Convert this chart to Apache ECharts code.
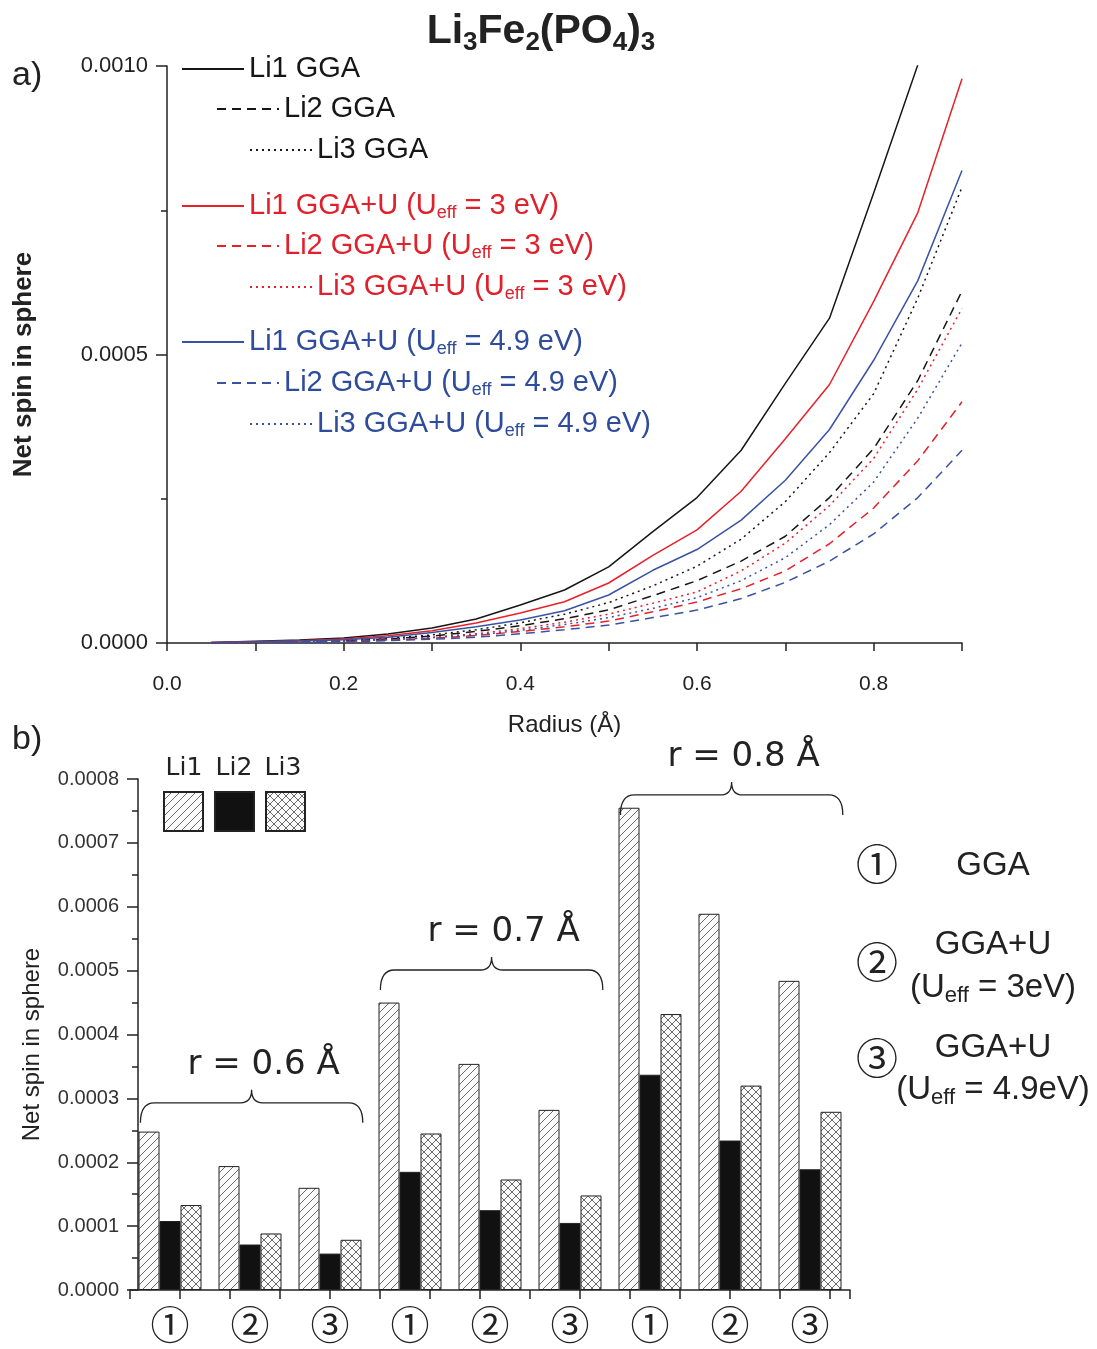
<!DOCTYPE html>
<html><head><meta charset="utf-8">
<script src="https://cdn.jsdelivr.net/npm/echarts@6/dist/echarts.min.js"></script>
<style>html,body{margin:0;padding:0;background:#fff}#c{width:1097px;height:1349px}</style>
</head><body><div id="c"></div>
<script>
// ---------- data: panel a) ----------
const radius = [0.05,0.10,0.15,0.20,0.25,0.30,0.35,0.40,0.45,0.50,0.55,0.60,0.65,0.70,0.75,0.80,0.85,0.90];
const li1GGA  = [0.000001,0.000003,0.000005,0.0000087,0.0000156,0.000026,0.0000416,0.0000658,0.0000918,0.000132,0.000193,0.000252,0.000334,0.000450,0.000563,0.000780,0.001002,0.00128];
const li2GGA  = [0.0000005,0.000001,0.000002,0.0000035,0.000007,0.000012,0.00002,0.00003,0.000042,0.0000575,0.000082,0.000108,0.000142,0.000185,0.000252,0.000337,0.000455,0.000610];
const li3GGA  = [0.0000005,0.0000012,0.0000022,0.000004,0.0000078,0.000014,0.000023,0.000035,0.00005,0.00007,0.000099,0.000133,0.00018,0.000245,0.000330,0.000432,0.000598,0.000790];
const li1U3   = [0.000001,0.000002,0.000004,0.000007,0.0000125,0.0000213,0.0000347,0.000052,0.0000716,0.000104,0.000152,0.000196,0.000263,0.000354,0.000448,0.000592,0.000746,0.000978];
const li2U3   = [0.0000004,0.0000008,0.0000015,0.0000025,0.0000048,0.000008,0.000013,0.00002,0.000028,0.000038,0.000054,0.0000712,0.000094,0.000125,0.000172,0.000234,0.000316,0.000418];
const li3U3   = [0.0000004,0.000001,0.0000018,0.000003,0.000006,0.00001,0.000016,0.000025,0.000036,0.00005,0.000069,0.0000885,0.000125,0.000173,0.000238,0.000320,0.000440,0.000580];
const li1U49  = [0.000001,0.000002,0.0000035,0.0000057,0.00001,0.000018,0.0000283,0.00004,0.000056,0.0000832,0.000126,0.000162,0.000213,0.000282,0.000370,0.000490,0.000628,0.000819];
const li2U49  = [0.0000003,0.0000007,0.0000012,0.000002,0.000004,0.0000065,0.00001,0.000016,0.000023,0.000031,0.000044,0.000057,0.000077,0.000105,0.000142,0.000189,0.000252,0.000334];
const li3U49  = [0.0000004,0.0000009,0.0000016,0.0000027,0.0000055,0.0000092,0.000014,0.000022,0.000032,0.000044,0.00006,0.0000786,0.000108,0.000148,0.000205,0.000279,0.000390,0.000520];
const lineNames = ['Li1 GGA','Li2 GGA','Li3 GGA',
  'Li1 GGA+U (Ueff = 3 eV)','Li2 GGA+U (Ueff = 3 eV)','Li3 GGA+U (Ueff = 3 eV)',
  'Li1 GGA+U (Ueff = 4.9 eV)','Li2 GGA+U (Ueff = 4.9 eV)','Li3 GGA+U (Ueff = 4.9 eV)'];
const lineValues = [li1GGA,li2GGA,li3GGA,li1U3,li2U3,li3U3,li1U49,li2U49,li3U49];

// ---------- data: panel b) ----------
const radii = ['0.6','0.7','0.8'];
const methods = ['①','②','③'];
const barNames = ['Li1','Li2','Li3'];
const li1Bar = [0.000248,0.000194,0.000160, 0.000450,0.000354,0.000282, 0.000755,0.000589,0.000484];
const li2Bar = [0.000108,0.0000712,0.000057, 0.000185,0.000125,0.000105, 0.000337,0.000234,0.000189];
const li3Bar = [0.000133,0.0000885,0.0000786, 0.000245,0.000173,0.000148, 0.000432,0.000320,0.000279];
const braceLevels = [0.000293,0.000501,0.000775];
const methodNames = ['GGA','GGA+U','GGA+U'];
const methodParams = ['','(Ueff = 3eV)','(Ueff = 4.9eV)'];

const categories = [];
radii.forEach(r => methods.forEach(m => categories.push(r + ' ' + m)));

// ---------- styles ----------
const BLACK = '#161616', RED = '#e8202a', BLUE = '#3953a4';
const TXT_RED = '#e0202b', TXT_BLUE = '#2f4c9c';
const colors = [BLACK,BLACK,BLACK,RED,RED,RED,BLUE,BLUE,BLUE];
const dashTypes = ['solid',[9,6],[2,4]];
const FONT = 'Liberation Sans';

function makePattern(cross){
  const s = 8;
  const c = document.createElement('canvas'); c.width = s; c.height = s;
  const g = c.getContext('2d');
  g.fillStyle = '#fafafa'; g.fillRect(0,0,s,s);
  g.strokeStyle = '#5a5a5a'; g.lineWidth = 0.9;
  g.beginPath();
  g.moveTo(0,s); g.lineTo(s,0);
  g.moveTo(-2,2); g.lineTo(2,-2);
  g.moveTo(s-2,s+2); g.lineTo(s+2,s-2);
  if (cross){
    g.moveTo(0,0); g.lineTo(s,s);
    g.moveTo(-2,s-2); g.lineTo(2,s+2);
    g.moveTo(s-2,-2); g.lineTo(s+2,2);
  }
  g.stroke();
  return {image: c, repeat: 'repeat'};
}
const hatch = makePattern(false);
const crossHatch = makePattern(true);

const chart = echarts.init(document.getElementById('c'), null, {renderer:'canvas'});

const series = [];
lineNames.forEach((n,i) => {
  series.push({
    type:'line', name:n, xAxisIndex:0, yAxisIndex:0,
    data: radius.map((r,k) => [r, lineValues[i][k]]),
    symbol:'circle', showSymbol:false, symbolSize:4,
    lineStyle:{color:colors[i], width:1.5, type:dashTypes[i%3]},
    itemStyle:{color:colors[i]},
    clip:true, z: 3 + (i%3===0 ? 1 : 0)
  });
});
const barData = [li1Bar, li2Bar, li3Bar];
const barColors = [hatch, '#111', crossHatch];
barNames.forEach((n,i) => {
  series.push({
    type:'bar', name:n, xAxisIndex:1, yAxisIndex:1,
    data: barData[i], barWidth:21, barGap:'0%',
    itemStyle:{color:barColors[i], borderColor:'#222', borderWidth:1}
  });
});
series.push({
  type:'custom', xAxisIndex:1, yAxisIndex:1, silent:true, clip:false, z:5,
  data: braceLevels.map((v,i) => [i*3, i*3+2, v]),
  renderItem(params, api){
    const s = api.coord([api.value(0), api.value(2)]);
    const e = api.coord([api.value(1), api.value(2)]);
    const bw = api.size([1,0])[0];
    const x0 = s[0] - bw*0.37, x1 = e[0] + bw*0.41, y = s[1];
    const xm = (x0+x1)/2;
    const d = `M${x0},${y+20} Q${x0},${y} ${x0+14},${y} L${xm-11},${y} Q${xm},${y} ${xm},${y-13} Q${xm},${y} ${xm+11},${y} L${x1-14},${y} Q${x1},${y} ${x1},${y+20}`;
    return {type:'group', children:[
      {type:'path', shape:{pathData:d}, style:{stroke:'#222', fill:null, lineWidth:1.3}},
      {type:'text', style:{text:'r = ' + radii[params.dataIndex] + ' Å', x:xm+12, y:y-38,
        align:'center', verticalAlign:'middle', fontSize:34, fontFamily:'DejaVu Sans', fill:'#222'}}
    ]};
  }
});

// legends for lines
const legendPos = [[181,69],[216,109],[249,150],[181,206],[216,246],[249,287],[181,342],[216,383],[249,424]];
const txtColors = [BLACK,BLACK,BLACK,TXT_RED,TXT_RED,TXT_RED,TXT_BLUE,TXT_BLUE,TXT_BLUE];
const legends = lineNames.map((n,i) => ({
  data:[n], left:legendPos[i][0], top:legendPos[i][1]-16, padding:0,
  itemWidth:62, itemHeight:14, selectedMode:false,
  itemStyle:{opacity:0},
  formatter: name => name.replace('Ueff', 'U{s|eff}'),
  textStyle:{color:txtColors[i], fontSize:29, fontFamily:FONT, lineHeight:32,
    rich:{s:{fontSize:18, lineHeight:18, padding:[14,0,0,0], color:txtColors[i], fontFamily:FONT}}}
}));
legends.push({
  data:barNames, left:163, top:791, padding:0, orient:'horizontal', icon:'rect',
  itemWidth:39, itemHeight:39, itemGap:10, selectedMode:false,
  formatter: () => '', textStyle:{fontSize:1}
});

const graphics = [
  {type:'text', style:{text:'Li{s|3}Fe{s|2}(PO{s|4}){s|3}', x:541, y:32, align:'center', verticalAlign:'middle',
    fontSize:41, fontWeight:'bold', fontFamily:FONT, fill:'#222',
    rich:{s:{fontSize:26, fontWeight:'bold', fontFamily:FONT, padding:[22,0,0,0], fill:'#222'}}}},
  {type:'text', style:{text:'a)', x:12, y:76, verticalAlign:'middle', fontSize:34, fontFamily:FONT, fill:'#222'}},
  {type:'text', style:{text:'b)', x:12, y:740, verticalAlign:'middle', fontSize:34, fontFamily:FONT, fill:'#222'}}
];
const liLabelX = [184,234,283];
barNames.forEach((n,i) => graphics.push({type:'text', style:{text:n, x:liLabelX[i], y:768, align:'center', verticalAlign:'middle', fontSize:25, fontFamily:'DejaVu Sans', fill:'#222'}}));
const keyY = [864, 962, 1058];
const nameY = [866, 945, 1048];
const paramY = [0, 988, 1090];
methods.forEach((m,i) => {
  graphics.push({type:'text', style:{text:m, x:877, y:keyY[i], align:'center', verticalAlign:'middle', fontSize:42, fontFamily:'Noto Sans CJK JP', fill:'#222'}});
  graphics.push({type:'text', style:{text:methodNames[i], x:993, y:nameY[i], align:'center', verticalAlign:'middle', fontSize:33, fontFamily:FONT, fill:'#222'}});
  if (methodParams[i]) graphics.push({type:'text', style:{text:methodParams[i].replace('Ueff','U{s|eff}'), x:993, y:paramY[i], align:'center', verticalAlign:'middle', fontSize:33, fontFamily:FONT, fill:'#222',
    rich:{s:{fontSize:22, fontFamily:FONT, padding:[16,0,0,0], fill:'#222'}}}});
});

const axisLineStyle = {color:'#222', width:1.5};
chart.setOption({
  animation:false,
  backgroundColor:'#fff',
  grid:[
    {left:167, top:66, width:795, height:577, outerBoundsMode:'none', containLabel:false},
    {left:130, top:779, width:720, height:511, outerBoundsMode:'none', containLabel:false}
  ],
  xAxis:[
    {type:'value', gridIndex:0, min:0, max:0.9, interval:0.1,
     axisLine:{show:true, onZero:false, lineStyle:axisLineStyle},
     axisTick:{show:true, inside:false, length:8, lineStyle:{color:'#222', width:1.5}},
     axisLabel:{fontSize:21, color:'#222', fontFamily:FONT, margin:31,
       formatter: v => (Math.round(v*10)%2===0 && v<0.85) ? v.toFixed(1) : ''},
     splitLine:{show:false},
     name:'Radius (Å)', nameLocation:'middle', nameGap:70,
     nameTextStyle:{fontSize:24, color:'#222', fontFamily:FONT}},
    {type:'category', gridIndex:1, data:categories,
     axisLine:{show:true, lineStyle:axisLineStyle},
     axisTick:{show:false},
     axisLabel:{fontSize:39, color:'#222', fontFamily:'Noto Sans CJK JP', margin:15,
       formatter: v => v.split(' ')[1]},
     splitLine:{show:false}},
    {type:'value', gridIndex:1, min:0, max:720, interval:50, position:'bottom',
     axisLine:{show:false}, axisLabel:{show:false}, splitLine:{show:false},
     axisTick:{show:true, length:9, lineStyle:{color:'#222', width:1.5}}}
  ],
  yAxis:[
    {type:'value', gridIndex:0, min:0, max:0.001, interval:0.0005,
     axisLine:{show:true, onZero:false, lineStyle:axisLineStyle},
     axisTick:{show:true, length:11, lineStyle:{color:'#222', width:1.5}},
     minorTick:{show:true, splitNumber:2, length:6, lineStyle:{color:'#222', width:1.5}},
     axisLabel:{fontSize:22, color:'#222', fontFamily:FONT, margin:19, formatter: v => v.toFixed(4)},
     splitLine:{show:false},
     name:'Net spin in sphere', nameLocation:'middle', nameGap:130, nameRotate:90,
     nameTextStyle:{fontSize:26, fontWeight:'bold', color:'#222', fontFamily:FONT, padding:[0,20,0,0]}},
    {type:'value', gridIndex:1, min:0, max:0.0008, interval:0.0001, offset:-8,
     axisLine:{show:true, onZero:false, lineStyle:axisLineStyle},
     axisTick:{show:true, length:11, lineStyle:{color:'#222', width:1.5}},
     minorTick:{show:true, splitNumber:2, length:6, lineStyle:{color:'#222', width:1.5}},
     axisLabel:{fontSize:20, color:'#333', fontFamily:FONT, margin:19, formatter: v => v.toFixed(4)},
     splitLine:{show:false},
     name:'Net spin in sphere', nameLocation:'middle', nameGap:94, nameRotate:90,
     nameTextStyle:{fontSize:24, color:'#222', fontFamily:FONT, padding:[0,20,0,0]}}
  ],
  legend: legends,
  series: series,
  graphic: graphics
});
</script></body></html>
